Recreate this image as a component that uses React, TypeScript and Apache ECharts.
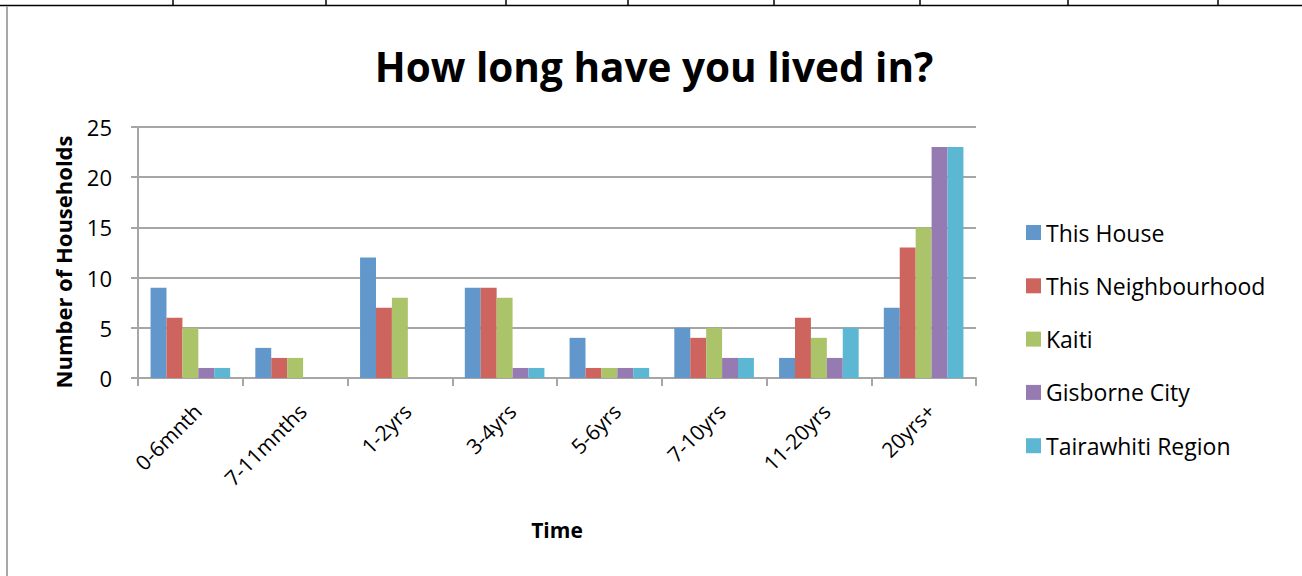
import React, { useEffect, useRef } from "react";
import * as echarts from "echarts";

const categories = ["0-6mnth", "7-11mnths", "1-2yrs", "3-4yrs", "5-6yrs", "7-10yrs", "11-20yrs", "20yrs+"];
const seriesNames = ["This House", "This Neighbourhood", "Kaiti", "Gisborne City", "Tairawhiti Region"];
const thisHouse = [9, 3, 12, 9, 4, 5, 2, 7];
const thisNeighbourhood = [6, 2, 7, 9, 1, 4, 6, 13];
const kaiti = [5, 2, 8, 8, 1, 5, 4, 15];
const gisborneCity = [1, 0, 0, 1, 1, 2, 2, 23];
const tairawhitiRegion = [1, 0, 0, 1, 1, 2, 5, 23];
const seriesData = [thisHouse, thisNeighbourhood, kaiti, gisborneCity, tairawhitiRegion];
const colors = ["#6197CB", "#CD655E", "#ABC46A", "#957BB2", "#5CB8D2"];
const topTickXs = [173, 326, 506, 628, 774, 920, 1068, 1218];

const FONT = "'Open Sans', 'Liberation Sans', sans-serif";

export default function App() {
  const ref = useRef<HTMLDivElement>(null);
  useEffect(() => {
    if (!ref.current) return;
    const chart = echarts.init(ref.current, undefined, { renderer: "svg" });
    const graphics: any[] = [
      { type: "line", shape: { x1: 0, y1: 5.5, x2: 1302, y2: 5.5 }, style: { stroke: "#000", lineWidth: 1.5 } },
      { type: "line", shape: { x1: 7, y1: 6, x2: 7, y2: 576 }, style: { stroke: "#A8A8A8", lineWidth: 2 } },
      ...topTickXs.map((x) => ({ type: "line", shape: { x1: x, y1: 0, x2: x, y2: 5 }, style: { stroke: "#000", lineWidth: 1.5 } })),
      {
        type: "text",
        x: 63,
        y: 262,
        rotation: Math.PI / 2,
        style: {
          text: "Number of Households",
          font: `bold 22px ${FONT}`,
          fill: "#000",
          align: "center",
          verticalAlign: "middle",
        },
      },
    ];
    chart.setOption({
      animation: false,
      backgroundColor: "#fff",
      title: {
        text: "How long have you lived in?",
        left: 649,
        textAlign: "center",
        top: 41,
        textStyle: { fontFamily: FONT, fontWeight: "bold", fontSize: 40.5, color: "#000" },
      },
      grid: { left: 138, right: 326, top: 127, bottom: 198, containLabel: false },
      legend: {
        orient: "vertical",
        left: 1026,
        top: 221,
        padding: 0,
        itemWidth: 15,
        itemHeight: 15,
        itemGap: 30.3,
        icon: "rect",
        data: seriesNames,
        textStyle: { fontFamily: FONT, fontSize: 23, color: "#000", lineHeight: 20, padding: [0, 0, 0, 0] },
      },
      xAxis: {
        type: "category",
        data: categories,
        name: "Time",
        nameLocation: "middle",
        nameGap: 141,
        nameTextStyle: { fontFamily: FONT, fontWeight: "bold", fontSize: 21, color: "#000" },
        axisLine: { lineStyle: { color: "#A6A6A6", width: 2 } },
        axisTick: { show: true, length: 8, lineStyle: { color: "#A6A6A6", width: 2 } },
        axisLabel: { rotate: 45, fontFamily: FONT, fontSize: 21, color: "#000", margin: 22, verticalAlign: "top" },
      },
      yAxis: {
        type: "value",
        min: 0,
        max: 25,
        interval: 5,
        axisLine: { show: true, lineStyle: { color: "#A6A6A6", width: 2 } },
        axisTick: { show: true, length: 7, lineStyle: { color: "#A6A6A6", width: 2 } },
        axisLabel: { fontFamily: FONT, fontSize: 22, color: "#000", margin: 26 },
        splitLine: { lineStyle: { color: "#A6A6A6", width: 2 } },
      },
      series: seriesNames.map((name, i) => ({
        name,
        type: "bar",
        data: seriesData[i],
        barGap: "0%",
        barCategoryGap: "24%",
        itemStyle: { color: colors[i] },
      })),
      graphic: graphics,
    });
    return () => chart.dispose();
  }, []);
  return <div ref={ref} style={{ position: "absolute", left: 0, top: 0, width: 1302, height: 576 }} />;
}
